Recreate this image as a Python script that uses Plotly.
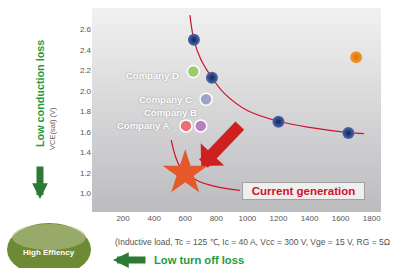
import plotly.graph_objects as go

# ---- data ----
gen_x = [656, 772, 1200, 1650]            # navy "previous generation" points
gen_y = [2.50, 2.13, 1.70, 1.59]
orange_x = [1700]
orange_y = [2.33]
companies = ["Company D", "Company C", "Company B", "Company A"]
comp_x = [652, 734, 700, 605]
comp_y = [2.19, 1.92, 1.66, 1.66]
comp_colors = ["#9ccc6c", "#9ea4c8", "#b97fbf", "#ea7078"]
star_x = [600]
star_y = [1.20]
curve_x = [630, 656, 700, 772, 850, 1000, 1200, 1400, 1650, 1750]
curve_y = [2.74, 2.50, 2.31, 2.13, 1.98, 1.81, 1.705, 1.645, 1.595, 1.585]
new_curve_x = [510, 567, 674, 792, 952]
new_curve_y = [1.52, 1.26, 1.13, 1.07, 1.03]
x_ticks = [200, 400, 600, 800, 1000, 1200, 1400, 1600, 1800]
y_ticks = [1.0, 1.2, 1.4, 1.6, 1.8, 2.0, 2.2, 2.4, 2.6]
x_range = [0, 1860]
y_range = [0.82, 2.81]

FONT = "Liberation Sans, Arial, sans-serif"
GREEN = "#1f9c3f"
DKGREEN = "#2c7a34"

fig = go.Figure()

# gradient plot background
fig.add_trace(go.Scatter(
    x=[x_range[0], x_range[1], x_range[1], x_range[0], x_range[0]],
    y=[y_range[0], y_range[0], y_range[1], y_range[1], y_range[0]],
    mode="lines", line=dict(width=0), fill="toself",
    fillgradient=dict(type="vertical",
                      colorscale=[[0, "#bcbcbf"], [1, "#f1f1f1"]]),
    hoverinfo="skip", showlegend=False))

# curves
fig.add_trace(go.Scatter(x=curve_x, y=curve_y, mode="lines",
                         line=dict(color="#d0102c", width=1.2, shape="spline"),
                         showlegend=False, hoverinfo="skip"))
fig.add_trace(go.Scatter(x=new_curve_x, y=new_curve_y, mode="lines",
                         line=dict(color="#d0102c", width=1.2, shape="spline"),
                         showlegend=False, hoverinfo="skip"))

# navy points
fig.add_trace(go.Scatter(x=gen_x, y=gen_y, mode="markers",
                         marker=dict(size=12, color="#4a6ab0",
                                     gradient=dict(type="radial", color="#132452"),
                                     line=dict(width=0)),
                         showlegend=False))
# orange point
fig.add_trace(go.Scatter(x=orange_x, y=orange_y, mode="markers",
                         marker=dict(size=12, color="#f49a30",
                                     gradient=dict(type="radial", color="#e07000"),
                                     line=dict(width=0)),
                         showlegend=False))
# company points
fig.add_trace(go.Scatter(x=comp_x, y=comp_y, mode="markers",
                         marker=dict(size=12, color=comp_colors,
                                     line=dict(width=1.5, color="white")),
                         showlegend=False))
# star
fig.add_trace(go.Scatter(x=star_x, y=star_y, mode="markers",
                         marker=dict(symbol="star", size=34, color="#e4582c",
                                     line=dict(width=0)),
                         showlegend=False))

ann = []
# company labels
shifts = {"Company D": (-12, -4), "Company C": (-12, 0),
          "Company B": (-2, 13), "Company A": (-14, 0)}
for name, cx, cy in zip(companies, comp_x, comp_y):
    dx, dy = shifts[name]
    ann.append(dict(x=cx, y=cy, xref="x", yref="y", text="<b>%s</b>" % name,
                    showarrow=False, xanchor="right", yanchor="middle",
                    xshift=dx, yshift=dy,
                    font=dict(family=FONT, size=9.5, color="white",
                              shadow="0px 0px 2px #8a8a8a")))

# big red arrow toward the star
ann.append(dict(x=star_x[0], y=star_y[0], xref="x", yref="y", text="",
                showarrow=True, arrowhead=1, arrowsize=0.45, arrowwidth=12,
                arrowcolor="#cf2020", ax=40, ay=-42, standoff=0,
                xshift=16, yshift=7))

# Current generation label
ann.append(dict(x=1364, y=1.027, xref="x", yref="y",
                text="<b>Current generation</b>", showarrow=False,
                font=dict(family=FONT, size=11.5, color="#d4102a"),
                bgcolor="#efefef", bordercolor="#a0a0a0", borderwidth=1,
                borderpad=1.5, width=118, height=13))

# y-axis titles
ann.append(dict(x=-0.18, y=0.583, xref="paper", yref="paper",
                xanchor="center", yanchor="middle",
                text="<b>Low conduction loss</b>", textangle=-90, showarrow=False,
                font=dict(family=FONT, size=10.8, color=GREEN)))
ann.append(dict(x=-0.135, y=0.412, xref="paper", yref="paper",
                xanchor="center", yanchor="middle",
                text="VCE(sat) (V)", textangle=-90, showarrow=False,
                font=dict(family=FONT, size=7.5, color="#666666")))
# green down arrow
ann.append(dict(x=-0.18, y=(212 - 199) / 204, xref="paper", yref="paper", text="",
                showarrow=True, arrowhead=2, arrowsize=0.45, arrowwidth=7,
                arrowcolor=DKGREEN, ax=0, ay=-34))
# green left arrow
ann.append(dict(x=(113 - 92) / 289, y=(212 - 260) / 204, xref="paper", yref="paper",
                text="", showarrow=True, arrowhead=2, arrowsize=0.45, arrowwidth=7,
                arrowcolor=DKGREEN, ax=34, ay=0))
ann.append(dict(x=(152 - 92) / 289, y=(212 - 259.5) / 204, xref="paper", yref="paper",
                text="<b>Low turn off loss</b>", showarrow=False,
                xanchor="left", yanchor="middle",
                font=dict(family=FONT, size=11.2, color=GREEN)))
# conditions note
ann.append(dict(x=(113 - 92) / 289, y=(212 - 242) / 204, xref="paper", yref="paper",
                text="(Inductive load, Tc = 125 ℃, Ic = 40 A, Vcc = 300 V, Vge = 15 V, RG = 5Ω",
                showarrow=False, xanchor="left", yanchor="middle",
                font=dict(family=FONT, size=8.5, color="#555555")))
# High efficiency ellipse text
ann.append(dict(x=(49 - 92) / 289, y=(212 - 252) / 204, xref="paper", yref="paper",
                xanchor="center", yanchor="middle",
                text="<b>High Effiency</b>", showarrow=False,
                font=dict(family=FONT, size=8, color="white")))
fig.update_layout(annotations=ann)

shapes = [
    dict(type="circle", xref="paper", yref="paper",
         x0=(7 - 92) / 289, x1=(91 - 92) / 289,
         y0=(212 - 276) / 204, y1=(212 - 223) / 204,
         fillcolor="#6e8a34", line=dict(width=0), layer="below"),
    dict(type="circle", xref="paper", yref="paper",
         x0=(12 - 92) / 289, x1=(86 - 92) / 289,
         y0=(212 - 250) / 204, y1=(212 - 224) / 204,
         fillcolor="#b4c08e", opacity=0.6, line=dict(width=0), layer="below"),
]
fig.update_layout(shapes=shapes)

fig.update_xaxes(range=x_range, tickvals=x_ticks, ticktext=[str(v) for v in x_ticks],
                 showgrid=True, gridcolor="#6e6e6e", griddash="dash", gridwidth=1,
                 zeroline=False, showline=False, ticks="",
                 tickfont=dict(family=FONT, size=8, color="#555555"))
fig.update_yaxes(range=y_range, tickvals=y_ticks, ticktext=["%.1f" % v for v in y_ticks],
                 showgrid=True, gridcolor="#6e6e6e", griddash="dash", gridwidth=1,
                 zeroline=False, showline=False, ticks="",
                 tickfont=dict(family=FONT, size=8, color="#555555"))

fig.update_layout(width=398, height=268,
                  margin=dict(l=92, r=17, t=8, b=56),
                  paper_bgcolor="white", plot_bgcolor="#e0e0e0",
                  showlegend=False, font=dict(family=FONT))

fig.write_html("out.html", config={"displayModeBar": False},
               post_script="document.body.style.margin='0';document.body.style.overflow='hidden';")
